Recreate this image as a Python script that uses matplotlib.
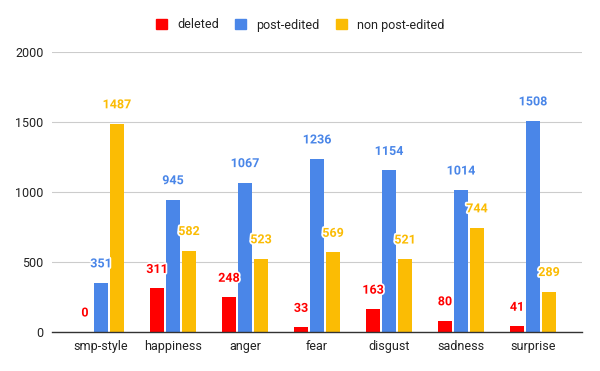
import matplotlib
matplotlib.use('Agg')
import matplotlib.pyplot as plt
import numpy as np
import matplotlib.patheffects as pe
from matplotlib.patches import Patch

categories = ['smp-style', 'happiness', 'anger', 'fear', 'disgust', 'sadness', 'surprise']
deleted = [0, 311, 248, 33, 163, 80, 41]
post_edited = [351, 945, 1067, 1236, 1154, 1014, 1508]
non_post_edited = [1487, 582, 523, 569, 521, 744, 289]

series = [('deleted', deleted, '#ff0000'),
          ('post-edited', post_edited, '#4a86e8'),
          ('non post-edited', non_post_edited, '#fbbc04')]

plt.rcParams['font.family'] = ['Roboto', 'DejaVu Sans']

fig = plt.figure(figsize=(6, 3.71), dpi=100)
ax = fig.add_axes([52 / 600, 1 - 332 / 371, 530 / 600, 280 / 371])

x = np.arange(len(categories))
step = 0.222
width = 0.194
for i, (name, vals, col) in enumerate(series):
    pos = x + (i - 1) * step
    ax.bar(pos, vals, width, color=col, zorder=2)
    for px, v in zip(pos, vals):
        ax.annotate(str(v), (px, v), xytext=(0, 19), textcoords='offset pixels',
                    ha='center', va='center', fontsize=9, fontweight='bold',
                    color=col, zorder=4,
                    path_effects=[pe.withStroke(linewidth=2.5, foreground='white')])

ax.set_xlim(-0.68, 6.68)
ax.set_ylim(0, 2000)
ax.set_yticks([0, 500, 1000, 1500, 2000])
ax.set_xticks(x)
ax.set_xticklabels(categories)
ax.tick_params(axis='both', length=0, labelsize=9, colors='#222222')
ax.tick_params(axis='x', pad=6)
ax.tick_params(axis='y', pad=6)
ax.grid(axis='y', color='#cccccc', linewidth=0.8, zorder=0)
for s in ['top', 'right', 'left']:
    ax.spines[s].set_visible(False)
ax.spines['bottom'].set_color('#333333')
ax.spines['bottom'].set_linewidth(1)
ax.spines['bottom'].set_zorder(3)

handles = [Patch(color=c, label=n) for n, _, c in series]
fig.legend(handles=handles, loc='center', bbox_to_anchor=(0.5, 1 - 25 / 371),
           ncol=3, frameon=False, fontsize=9, handlelength=0.9, handleheight=0.9,
           handletextpad=0.8, columnspacing=1.3, labelcolor='#222222')

fig.savefig('out.png', dpi=100)
